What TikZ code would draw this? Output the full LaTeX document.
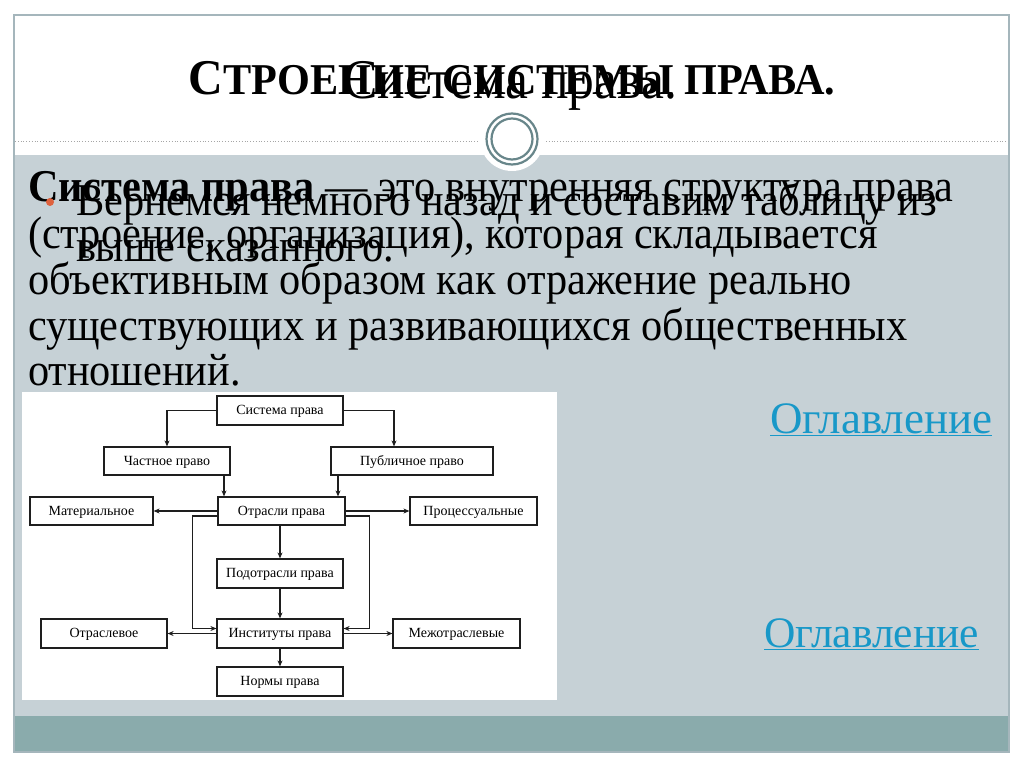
\documentclass[tikz,border=0pt]{standalone}
\usepackage{fontspec}
\setmainfont{Liberation Serif}
\newfontfamily\condfont[FakeStretch=0.93]{Liberation Serif}
\newfontfamily\titlefont[FakeStretch=0.92]{Liberation Serif}
\newfontfamily\headfont[FakeStretch=0.96]{Liberation Serif}
\usetikzlibrary{arrows.meta}
\definecolor{slidegray}{RGB}{198,209,214}
\definecolor{barteal}{RGB}{138,171,172}
\definecolor{framegray}{RGB}{165,182,188}
\definecolor{ringcol}{RGB}{104,134,138}
\definecolor{linkblue}{RGB}{24,152,200}
\definecolor{bulletor}{RGB}{222,98,62}
\definecolor{ink}{RGB}{30,30,30}
\tikzset{
  txt/.style={anchor=base west, inner sep=0pt, outer sep=0pt},
  body/.style={txt, font=\condfont\fontsize{45.5}{46}\selectfont},
  dbox/.style={draw=ink, line width=1.2pt, fill=white, inner sep=0pt, minimum height=29pt, text height=9.5pt, text depth=1.5pt, font=\fontsize{14}{14}\selectfont},
  arr/.style={draw=ink, line width=1.2pt, -{Stealth[length=6pt,width=5pt]}},
  link/.style={txt, text=linkblue}
}
\begin{document}
\begin{tikzpicture}[x=1pt,y=-1pt]
\useasboundingbox (0,0) rectangle (1024,767);
\fill[white] (0,0) rectangle (1024,767);
% slide frame
\fill[white] (14,15) rectangle (1009,155);
\fill[slidegray] (14,155) rectangle (1009,716);
\fill[barteal] (14,716) rectangle (1009,752);
\draw[framegray, line width=1.2pt] (14,15) rectangle (1009,752);
% dotted separator
\draw[gray!70, dotted, line width=0.8pt] (15,141) -- (478,141);
\draw[gray!70, dotted, line width=0.8pt] (546,141) -- (1008,141);
% circle ornament
\fill[white] (512,139) circle (32);
\draw[ringcol, line width=2.2pt] (512,139) circle (25.5);
\draw[ringcol, line width=2.2pt] (512,139) circle (20.5);
% titles (overlapping)
\node[anchor=base, inner sep=0pt] (title1) at (512,95) {\headfont\bfseries{\fontsize{50}{50}\selectfont С}{\fontsize{44}{44}\selectfont ТРОЕНИЕ СИСТЕМЫ ПРАВА.}};
\node[anchor=base, inner sep=0pt] (title2) at (510,99) {\titlefont\fontsize{56}{56}\selectfont Система права.};
% body text
\node[body] (l1) at (28,202) {\textbf{Система права} — это внутренняя структура права};
\node[body] (l2) at (28,248) {(строение, организация), которая складывается};
\node[body] (l3) at (28,294) {объективным образом как отражение реально};
\node[body] (l4) at (28,340) {существующих и развивающихся общественных};
\node[body] (l5) at (28,385) {отношений.};
% overlay bullet text
\fill[bulletor] (50,202) circle (4);
\node[body] (o1) at (76,216) {Вернемся немного назад и составим таблицу из};
\node[body] (o2) at (76,261) {выше сказанного.};
% links
\node[link, font=\fontsize{45}{45}\selectfont] (lk1) at (770,433) {\underline{Оглавление}};
\node[link, font=\fontsize{43.5}{44}\selectfont] (lk2) at (764,647) {\underline{Оглавление}};
% diagram
\fill[white] (22,392) rectangle (557,700);
\node[dbox, minimum width=126pt] (sys) at (280,410.5) {Система права};
\node[dbox, minimum width=126pt, minimum height=28pt] (chast) at (167,461) {Частное право};
\node[dbox, minimum width=162pt, minimum height=28pt] (publ) at (412,461) {Публичное право};
\node[dbox, minimum width=123pt, minimum height=28pt] (mat) at (91.5,511) {Материальное};
\node[dbox, minimum width=127pt, minimum height=28pt] (otr) at (281.5,511) {Отрасли права};
\node[dbox, minimum width=127pt, minimum height=28pt] (proc) at (473.5,511) {Процессуальные};
\node[dbox, minimum width=126pt] (podotr) at (280,573.5) {Подотрасли права};
\node[dbox, minimum width=126pt] (inst) at (280,633.5) {Институты права};
\node[dbox, minimum width=126pt] (otrasl) at (104,633.5) {Отраслевое};
\node[dbox, minimum width=127pt] (mezh) at (456.5,633.5) {Межотраслевые};
\node[dbox, minimum width=126pt] (norm) at (280,681.5) {Нормы права};
\draw[arr] (sys.west) -| (chast.north);
\draw[arr] (sys.east) -| ([xshift=-18pt]publ.north);
\coordinate (c1) at ([xshift=57pt]chast.south);
\draw[arr] (c1) -- (c1 |- otr.north);
\coordinate (c2) at ([xshift=-74pt]publ.south);
\draw[arr] (c2) -- (c2 |- otr.north);
\draw[arr] (otr.west) -- (mat.east);
\draw[arr] (otr.east) -- (proc.west);
\draw[arr] ([yshift=-5pt]otr.west) -- ++(-25,0) |- ([yshift=5pt]inst.west);
\draw[arr] ([yshift=-5pt]otr.east) -- ++(24,0) |- ([yshift=5pt]inst.east);
\draw[arr] (otr.south -| podotr.north) -- (podotr.north);
\draw[arr] (podotr.south) -- (inst.north);
\draw[arr] (inst.west) -- (otrasl.east);
\draw[arr] (inst.east) -- (mezh.west);
\draw[arr] (inst.south) -- (norm.north);
\end{tikzpicture}
\end{document}
